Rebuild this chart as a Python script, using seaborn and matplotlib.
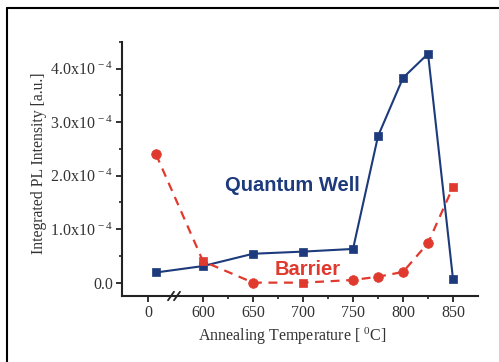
import numpy as np
import pandas as pd
import matplotlib
matplotlib.use("Agg")
import matplotlib.pyplot as plt
from matplotlib.lines import Line2D
from matplotlib.ticker import FixedLocator, MultipleLocator
import seaborn as sns

# Annealing temperature (0 = as-grown reference, drawn before the axis break)
temps = [8, 600, 650, 700, 750, 775, 800, 825, 850]
qw_int = [0.19, 0.31, 0.54, 0.58, 0.63, 2.74, 3.83, 4.28, 0.06]        # x1e-4
barrier_int = [2.40, 0.40, 0.0, 0.0, 0.05, 0.11, 0.20, 0.74, 1.79]    # x1e-4
barrier_marks = ["o", "s", "o", "s", "o", "o", "o", "o", "s"]

x_ticks = [0, 600, 650, 700, 750, 800, 850]
y_ticks = [0, 1, 2, 3, 4]

BREAK_SHIFT = 545   # temperatures below the break are shifted next to 600


def axis_pos(t):
    t = np.asarray(t, dtype=float)
    return np.where(t < 300, t + BREAK_SHIFT, t)


blue = "#1d3a7c"
red = "#e0392e"
ink = "#333333"

sns.set_theme(style="white")
plt.rcParams["font.family"] = ["Liberation Serif", "DejaVu Serif"]
plt.rcParams["mathtext.fontset"] = "custom"
plt.rcParams["mathtext.rm"] = "Liberation Serif"
plt.rcParams["mathtext.it"] = "Liberation Serif"

df = pd.DataFrame({
    "pos": np.concatenate([axis_pos(temps), axis_pos(temps)]),
    "val": qw_int + barrier_int,
    "series": ["Quantum Well"] * len(temps) + ["Barrier"] * len(temps),
    "mark": ["s"] * len(temps) + barrier_marks,
})

fig = plt.figure(figsize=(4.99, 3.62), dpi=100)
ax = fig.add_axes([0.2445, 0.1823, 0.7135, 0.7017])

qw = df[df.series == "Quantum Well"]
br = df[df.series == "Barrier"]
sns.lineplot(data=qw, x="pos", y="val", color=blue, lw=1.5, ax=ax,
             sort=False, legend=False)
sns.lineplot(data=br, x="pos", y="val", color=red, lw=1.6, ax=ax,
             sort=False, legend=False, dashes=False, linestyle=(0, (4, 3)))
sns.scatterplot(data=qw, x="pos", y="val", color=blue, marker="s", s=40,
                edgecolor=blue, ax=ax, legend=False, zorder=3)
for m in ["o", "s"]:
    sub = br[br.mark == m]
    sns.scatterplot(data=sub, x="pos", y="val", color=red, marker=m,
                    s=48 if m == "o" else 38, edgecolor=red, ax=ax,
                    legend=False, zorder=3)

ax.set_xlim(519, 875)
ax.set_ylim(-0.25, 4.5)

ax.xaxis.set_major_locator(FixedLocator(axis_pos(x_ticks)))
ax.set_xticklabels([str(t) for t in x_ticks])
ax.xaxis.set_minor_locator(FixedLocator([625, 675, 725, 775, 825]))
ax.yaxis.set_major_locator(FixedLocator(y_ticks))
ax.set_yticklabels(["0.0" if v == 0 else f"{v:.1f}x10$^{{\\,-4}}$" for v in y_ticks])
ax.yaxis.set_minor_locator(MultipleLocator(0.5))

for side in ["top", "right"]:
    ax.spines[side].set_visible(False)
for side in ["left", "bottom"]:
    ax.spines[side].set_color("#222222")
    ax.spines[side].set_linewidth(1.5)

ax.tick_params(axis="both", which="major", direction="out", length=4,
               width=1.3, color="#222222", labelsize=11.5, labelcolor=ink,
               pad=2.5, left=True, bottom=True)
ax.tick_params(axis="both", which="minor", direction="out", length=2.5,
               width=1.2, color="#222222", left=True, bottom=True)

ax.set_xlabel("Annealing Temperature [ $^{0}$C]", fontsize=11.5, color=ink)
ax.xaxis.set_label_coords(0.478, -0.115)
ax.set_ylabel("Integrated PL Intensity [a.u.]", fontsize=11.3, color=ink)
ax.yaxis.set_label_coords(-0.212, 0.524)

# axis break marks
for dx in (-3, 3):
    ax.plot([571 + dx - 3, 571 + dx + 3], [-0.33, -0.17], color="#222222",
            lw=1.3, clip_on=False, zorder=5)

ax.text(689, 1.82, "Quantum Well", color=blue, fontsize=14.5,
        fontweight="bold", family=["Liberation Sans", "DejaVu Sans"],
        ha="center", va="center")
ax.text(705, 0.25, "Barrier", color=red, fontsize=14.5,
        fontweight="bold", family=["Liberation Sans", "DejaVu Sans"],
        ha="center", va="center")

# outer frame
fig.add_artist(Line2D([0.014, 1.0], [0.978, 0.978], color="black", lw=1.5,
                      transform=fig.transFigure))
fig.add_artist(Line2D([0.014, 0.014], [0.0, 0.978], color="black", lw=1.5,
                      transform=fig.transFigure))

fig.savefig("out.png", dpi=100)
